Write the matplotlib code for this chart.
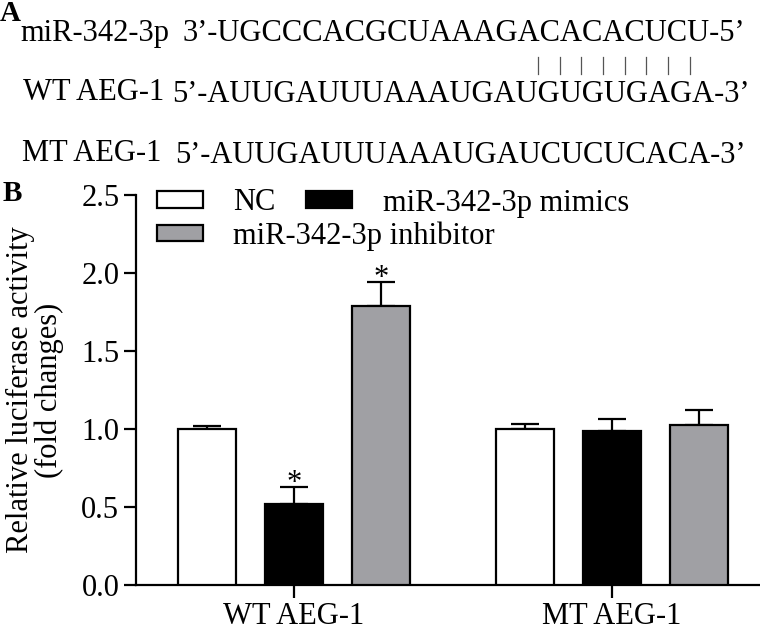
import matplotlib
matplotlib.use('Agg')
import matplotlib.pyplot as plt
from matplotlib.font_manager import FontProperties
from matplotlib.lines import Line2D
import numpy as np

plt.rcParams['font.family'] = ['Liberation Serif', 'DejaVu Serif']

# ===== data =====
groups = ['WT AEG-1', 'MT AEG-1']
series = ['NC', 'miR-342-3p mimics', 'miR-342-3p inhibitor']
means = {
    'NC': [1.00, 1.00],
    'miR-342-3p mimics': [0.52, 0.985],
    'miR-342-3p inhibitor': [1.79, 1.025],
}
errs = {
    'NC': [0.02, 0.033],
    'miR-342-3p mimics': [0.11, 0.08],
    'miR-342-3p inhibitor': [0.155, 0.095],
}
signif = {
    'NC': [False, False],
    'miR-342-3p mimics': [True, False],
    'miR-342-3p inhibitor': [True, False],
}
colors = ['white', 'black', '#a0a0a4']
yticks = [0.0, 0.5, 1.0, 1.5, 2.0, 2.5]

mir_label, mir_seq = 'miR-342-3p', '3\u2019-UGCCCACGCUAAAGACACACUCU-5\u2019'
wt_label, wt_seq = 'WT AEG-1', '5\u2019-AUUGAUUUAAAUGAUGUGUGAGA-3\u2019'
mt_label, mt_seq = 'MT AEG-1', '5\u2019-AUUGAUUUAAAUGAUCUCUCACA-3\u2019'
paired = list(range(14, 22))  # WT nucleotide indices joined by bars

FS = 22
W, H = 760, 631
fig = plt.figure(figsize=(W / 100, H / 100), dpi=100)

# ===== Panel A: sequences =====
def fy(py):
    return 1 - py / H

fig.text(0 / W, fy(21), 'A', fontsize=21, fontweight='bold', va='baseline')
fig.text(20 / W, fy(41), mir_label, fontsize=FS, va='baseline')
t_mir = fig.text(182 / W, fy(41), mir_seq, fontsize=FS, va='baseline')
fig.text(23 / W, fy(100), wt_label, fontsize=FS, va='baseline')
t_wt = fig.text(172 / W, fy(102), wt_seq, fontsize=FS, va='baseline')
fig.text(22 / W, fy(161), mt_label, fontsize=FS, va='baseline')
fig.text(175 / W, fy(163), mt_seq, fontsize=FS, va='baseline')

# pairing bars between the two strands, positions measured from the text
fig.canvas.draw()
renderer = fig.canvas.get_renderer()
fp = FontProperties(family=['Liberation Serif'], size=FS)

def letter_center(txt, seq, i):
    x0 = txt.get_window_extent(renderer).x0
    w_pre, _, _ = renderer.get_text_width_height_descent(seq[:3 + i], fp, ismath=False)
    w_ch, _, _ = renderer.get_text_width_height_descent(seq[3 + i], fp, ismath=False)
    return x0 + w_pre + w_ch / 2

for i in paired:
    xc = (letter_center(t_wt, wt_seq, i) + letter_center(t_mir, mir_seq, i + 1)) / 2 / W
    fig.add_artist(Line2D([xc, xc], [fy(57), fy(74)], color='#555555', lw=0.9))

# ===== Panel B: bar chart =====
ax = fig.add_axes([136 / W, 46 / H, 1 - 136 / W, 390 / H])
x = np.arange(len(groups))
w = 0.182
offsets = [-0.2736, 0.0, 0.2736]
for s, c, off in zip(series, colors, offsets):
    m = np.array(means[s])
    e = np.array(errs[s])
    ax.bar(x + off, m, w, color=c, edgecolor='black', linewidth=1.6, label=s, zorder=3)
    ax.errorbar(x + off, m, yerr=[np.zeros_like(e), e], fmt='none', ecolor='black',
                elinewidth=1.6, capsize=10, capthick=1.6, zorder=2)
    for i in range(len(groups)):
        if signif[s][i]:
            ax.annotate('*', (x[i] + off, m[i] + e[i]), xytext=(0, -3), textcoords='offset points',
                        ha='center', va='baseline', fontsize=FS)

ax.set_xlim(-0.497, 1.465)
ax.set_ylim(0, 2.5)
ax.set_yticks(yticks)
ax.set_yticklabels([f'{v:.1f}' for v in yticks])
ax.set_xticks(x)
ax.set_xticklabels(groups)
ax.tick_params(axis='both', labelsize=FS, width=1.6, length=9, direction='out')
ax.tick_params(axis='y', pad=3)
ax.tick_params(axis='x', pad=3)
for sp in ['top', 'right']:
    ax.spines[sp].set_visible(False)
for sp in ['left', 'bottom']:
    ax.spines[sp].set_linewidth(1.6)

fig.text(35 / W, fy(390), 'Relative luciferase activity\n(fold changes)', rotation=90,
         ha='center', va='center', fontsize=FS, multialignment='center', linespacing=1.0)
fig.text(3 / W, fy(201), 'B', fontsize=21, fontweight='bold', va='baseline')

# legend: two entries on the first row, the inhibitor on the second
h, l = ax.get_legend_handles_labels()
leg_kw = dict(frameon=False, fontsize=FS, handlelength=1.5, handleheight=0.46,
              handletextpad=1.0, borderpad=0, borderaxespad=0, loc='center left')
leg1 = ax.legend(h[:2], l[:2], ncol=2, columnspacing=1.0,
                 bbox_to_anchor=(157 / W, fy(203)), bbox_transform=fig.transFigure, **leg_kw)
ax.add_artist(leg1)
ax.legend(h[2:], l[2:], bbox_to_anchor=(157 / W, fy(236)), bbox_transform=fig.transFigure, **leg_kw)

fig.savefig('out.png', dpi=100)
print('done')
